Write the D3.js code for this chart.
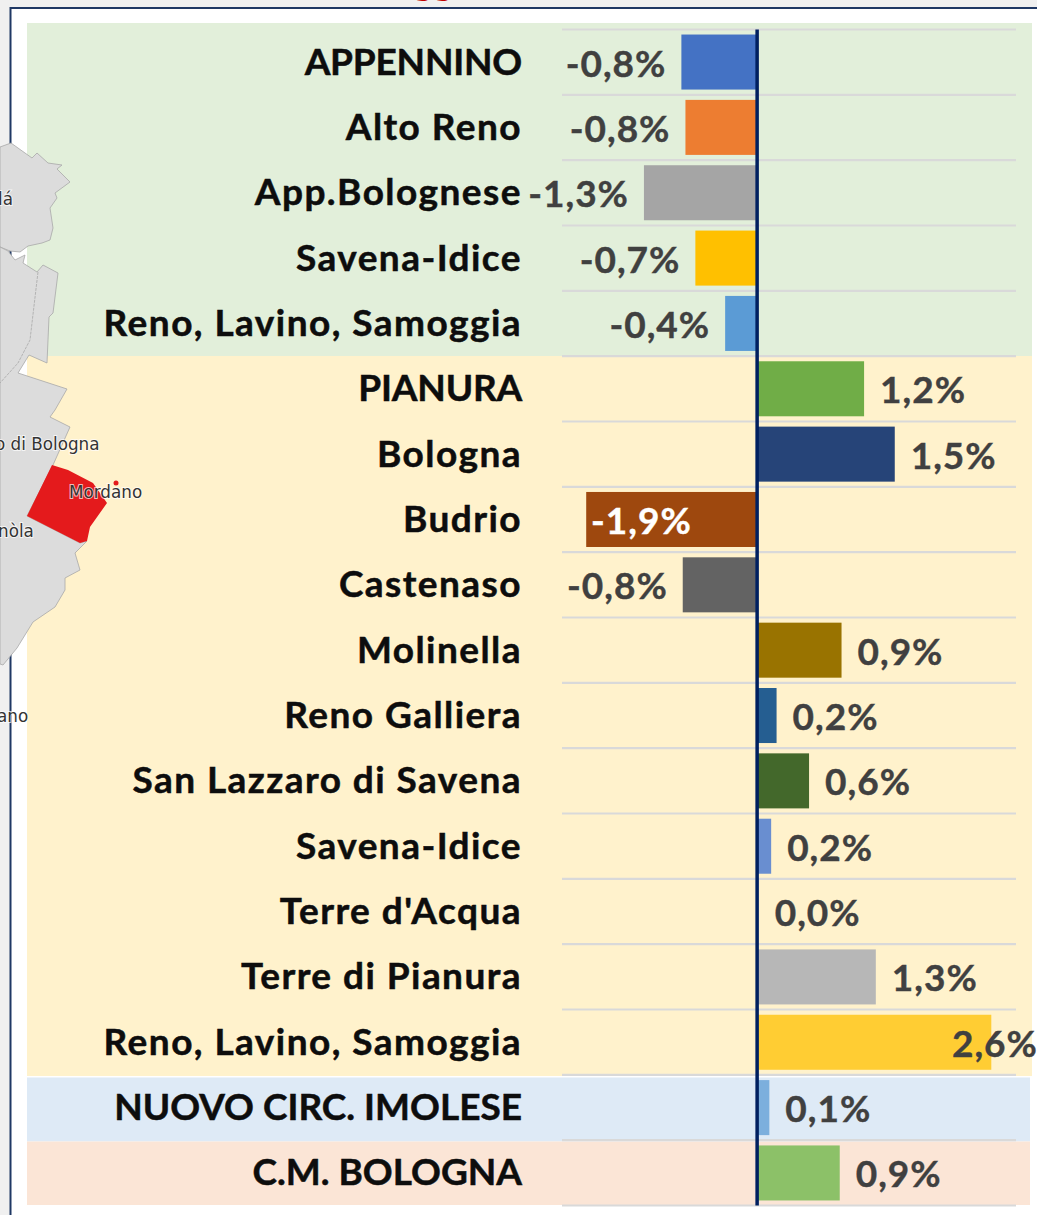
<!DOCTYPE html>
<html><head><meta charset="utf-8">
<style>html,body{margin:0;padding:0;background:#f0f0f0;overflow:hidden}svg{display:block}</style>
<script src="https://cdn.jsdelivr.net/npm/d3@7/dist/d3.min.js"></script></head>
<body><svg id="c" width="1037" height="1215"></svg>
<script>
const categories=["APPENNINO","Alto Reno","App.Bolognese","Savena-Idice","Reno, Lavino, Samoggia","PIANURA","Bologna","Budrio","Castenaso","Molinella","Reno Galliera","San Lazzaro di Savena","Savena-Idice","Terre d'Acqua","Terre di Pianura","Reno, Lavino, Samoggia","NUOVO CIRC. IMOLESE","C.M. BOLOGNA"];
const values=[-0.835,-0.79,-1.25,-0.68,-0.35,1.19,1.53,-1.89,-0.82,0.94,0.22,0.58,0.16,0,1.32,2.6,0.14,0.92];
const valueLabels=["-0,8%","-0,8%","-1,3%","-0,7%","-0,4%","1,2%","1,5%","-1,9%","-0,8%","0,9%","0,2%","0,6%","0,2%","0,0%","1,3%","2,6%","0,1%","0,9%"];
const barColors=["#4472c4","#ed7d31","#a5a5a5","#ffc000","#5b9bd5","#70ad47","#264478","#9e480e","#636363","#997300","#255e91","#43682b","#698ed0","#f1975a","#b7b7b7","#ffcd33","#7cafdd","#8cc168"];
const bandColors=["#e2efda","#fff2cc","#deeaf6","#fbe5d6"];
const svg=d3.select("#c");
const x=d3.scaleLinear().domain([-1.9,2.6]).range([585.3,991.3]);
const rowY=d3.scaleLinear().domain([0,18]).range([29.5,1205.5]);
const y=d3.scaleBand().domain(d3.range(categories.length)).range([29.5,1205.5]).paddingInner(0.158).paddingOuter(0.077);
// frame
svg.append("rect").attr("x",10.5).attr("y",8).attr("width",1040).attr("height",1240).attr("fill","#fff").attr("stroke","#1f3864").attr("stroke-width",2);
// title fragment, cut by the top edge in the reference
svg.append("text").attr("x",433).attr("y",-5).attr("text-anchor","middle").attr("font-family","Lato").attr("font-weight",700).attr("font-size",38).attr("fill","#c00000").text("gg");
// panels
const panelEdges=[[23,356,1032],[356,1076,1032],[1077.5,1141.5,1030],[1141.5,1205,1030]];
svg.selectAll("rect.band").data(bandColors).join("rect").attr("class","band").attr("x",27)
 .attr("y",(d,i)=>panelEdges[i][0]).attr("height",(d,i)=>panelEdges[i][1]-panelEdges[i][0]).attr("width",(d,i)=>panelEdges[i][2]-27).attr("fill",d=>d);
// grid
svg.selectAll("line.g").data(d3.range(19)).join("line").attr("x1",562).attr("x2",1016).attr("y1",d=>rowY(d)).attr("y2",d=>rowY(d)).attr("stroke","#d9d9d9").attr("stroke-width",2.2);
// map
const map=svg.append("g");
const landStyle=s=>s.attr("fill","#dcdcdc").attr("stroke","#a8a8a8").attr("stroke-width",.8).attr("stroke-linejoin","round");
map.append("path").call(landStyle).attr("d","M0,147L11,143L32,158L37,153L48,163L62,165L57,169L70,182L55,193L57,198L50,208L53,228L50,240L42,243L28,246L20,252L10,251L0,247Z");
map.append("path").call(landStyle).attr("d","M0,247L8,251L15,260L25,255L23,263L37,272L43,265L58,273L53,313L49,317L47,363L29,355L18,373L67,389L55,410L50,417L70,427L53,465L27,516L80,543L87,541L75,553L80,570L65,578L65,590L55,607L33,622L17,648L3,665L0,664Z");
map.append("path").attr("fill","none").attr("stroke","#a8a8a8").attr("stroke-width",.8).attr("stroke-dasharray","3 1").attr("d","M38,272L30,340L18,363L0,383");
map.append("path").attr("fill","#e41a1c").attr("d","M52,465L68,470L93,483L107,503L90,527L87,541L80,543L27,516Z");
map.append("circle").attr("cx",116).attr("cy",483).attr("r",2.5).attr("fill","#e41a1c");
const mapLabels=[["lá",-2,205],["o di Bologna",-5,450],["Mordano",69,498],["nòla",-2,537],["ano",-3,722]];
svg.append("g").selectAll("text").data(mapLabels).join("text").attr("x",d=>d[1]).attr("y",d=>d[2]).text(d=>d[0])
 .attr("font-family","DejaVu Sans").attr("font-size",16.8).attr("fill","#333").attr("stroke","#fff").attr("stroke-opacity",.7).attr("stroke-width",2).attr("paint-order","stroke");
// bars
svg.selectAll("rect.b").data(values).join("rect").attr("class","b").attr("x",d=>Math.min(x(d),x(0))).attr("width",d=>Math.abs(x(d)-x(0)))
 .attr("y",(d,i)=>y(i)).attr("height",y.bandwidth()).attr("fill",(d,i)=>barColors[i]);
// axis line
svg.append("line").attr("x1",x(0)+.4).attr("x2",x(0)+.4).attr("y1",rowY(0)).attr("y2",rowY(18)).attr("stroke","#002060").attr("stroke-width",3.5);
// labels
svg.selectAll("text.cat").data(categories).join("text").attr("class","cat").attr("x",522).attr("y",(d,i)=>rowY(i)+45).attr("text-anchor","end")
 .attr("font-family","Lato").attr("font-weight",700).attr("font-size",37).attr("letter-spacing",d=>d===d.toUpperCase()?(d.length<10?"-0.2px":"0px"):"1.45px").attr("fill","#0d0d0d").attr("stroke","#0d0d0d").attr("stroke-width",.5).text(d=>d);
svg.selectAll("text.val").data(values).join("text").attr("class","val")
 .attr("x",(d,i)=>i==7?591:d<0?x(d)-15:i==15?952:d==0?x(d)+18:x(d)+16).attr("y",(d,i)=>rowY(i)+47).attr("text-anchor",(d,i)=>i==7||d>=0?"start":"end")
 .attr("font-family","Lato").attr("font-weight",700).attr("font-size",37).attr("letter-spacing","1px")
 .attr("fill",(d,i)=>i==7?"#fff":"#404040").attr("stroke",(d,i)=>i==7?"#fff":"#404040").attr("stroke-width",.4).text((d,i)=>valueLabels[i]);
</script></body></html>
